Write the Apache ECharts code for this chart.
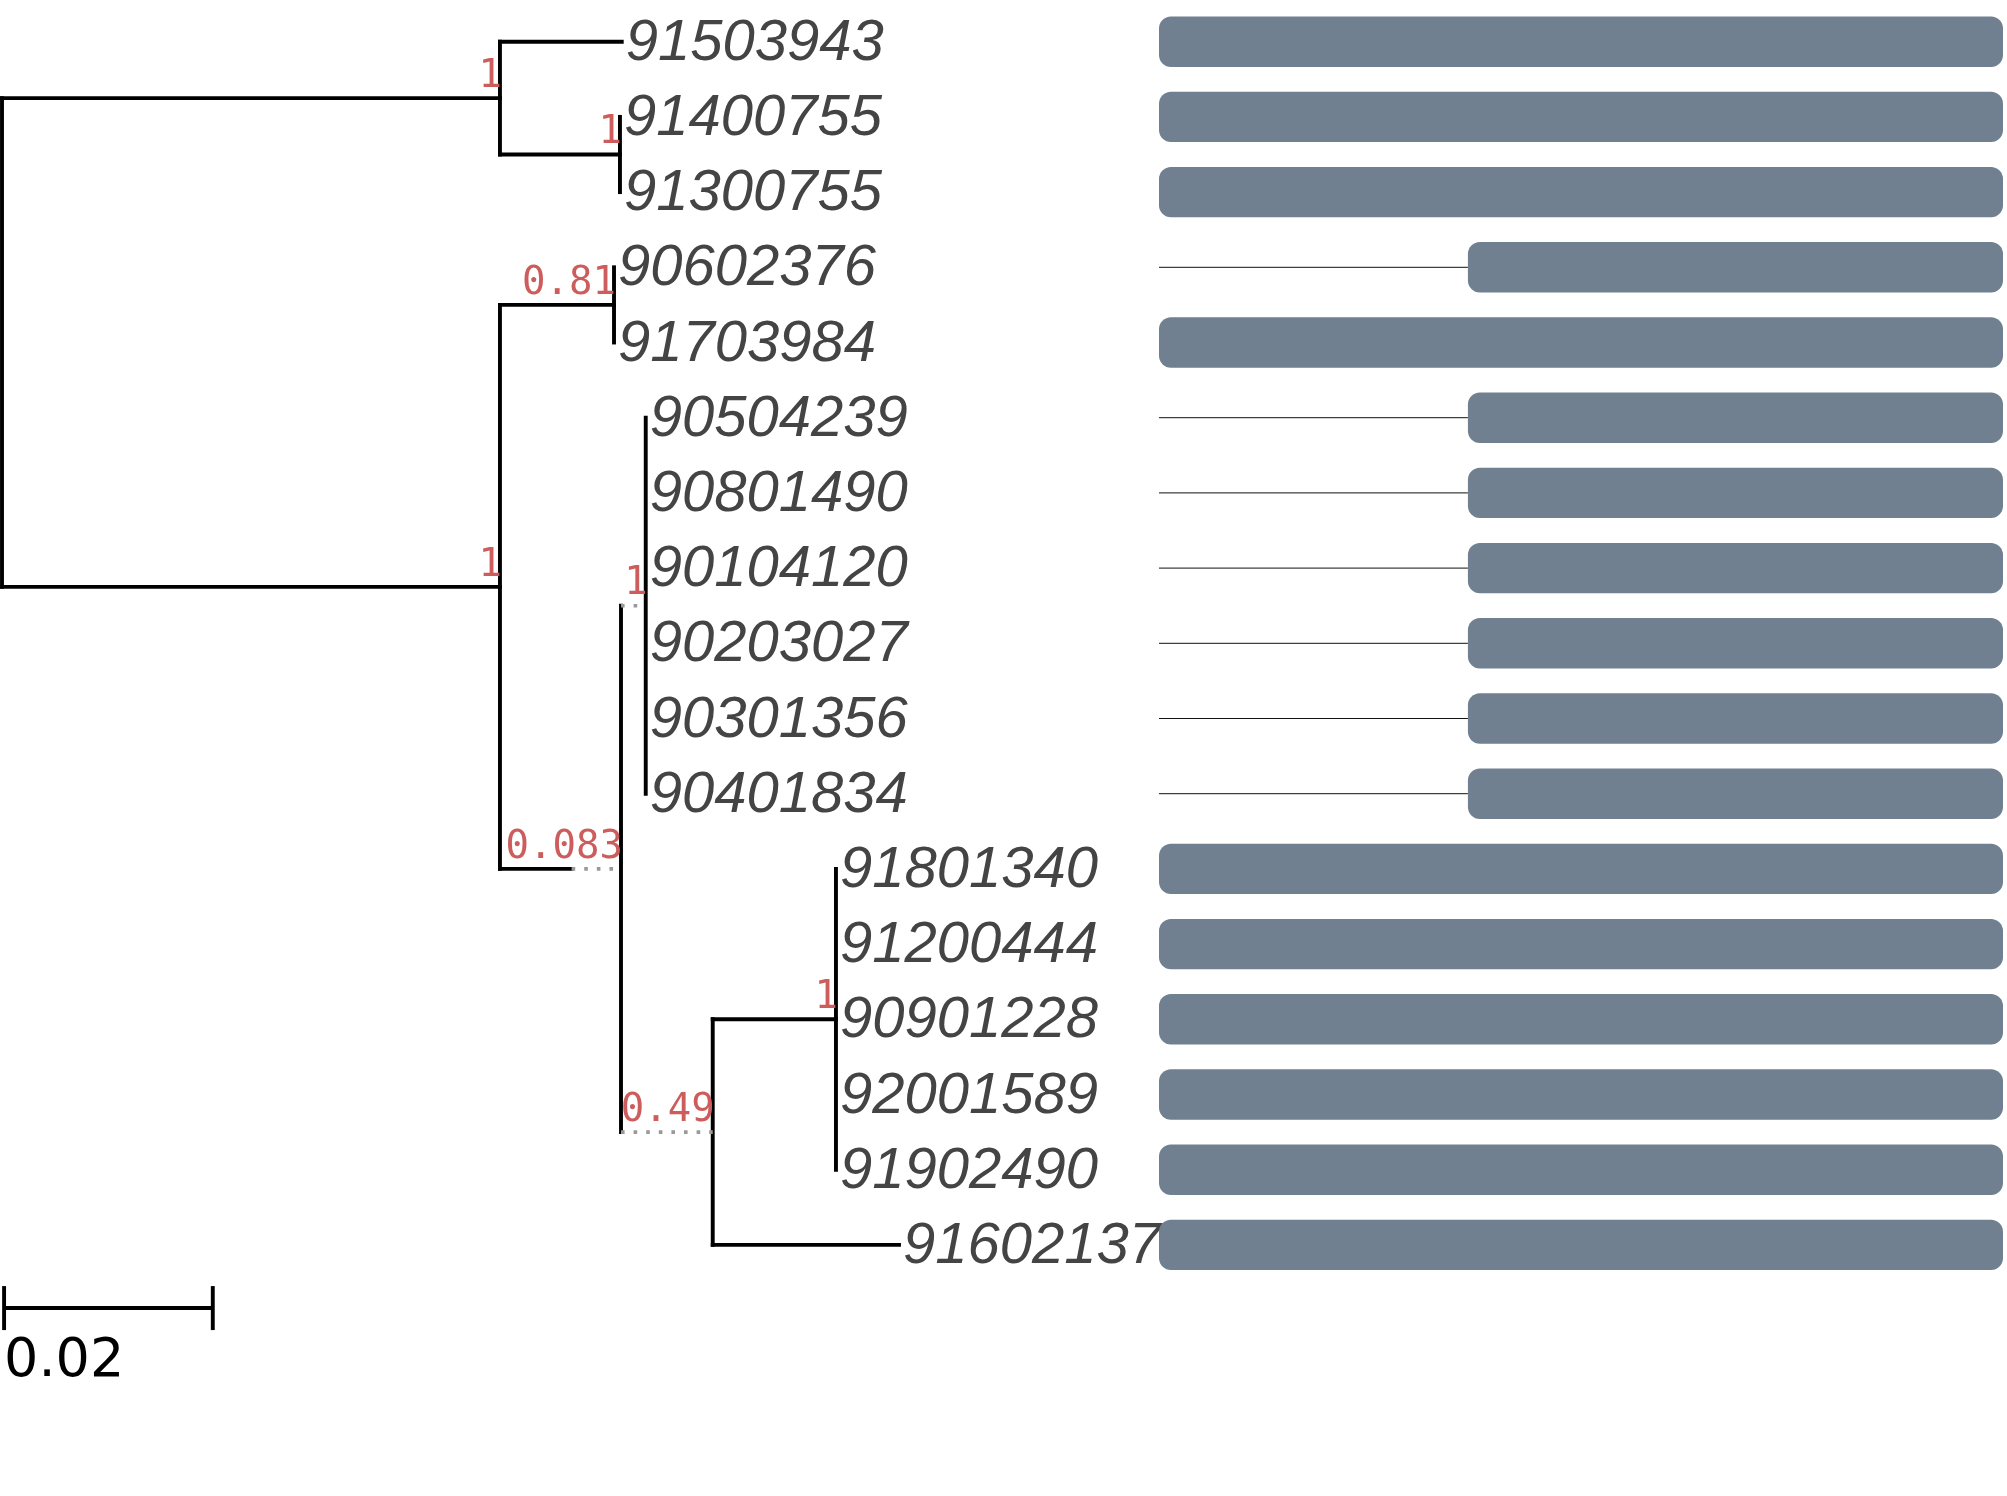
<!DOCTYPE html>
<html>
<head>
<meta charset="utf-8">
<title>tree</title>
<script src="https://cdn.jsdelivr.net/npm/echarts@6/dist/echarts.min.js"></script>
<style>
  html, body { margin: 0; padding: 0; background: #fff; }
  #chart { width: 2007px; height: 1496px; }
</style>
</head>
<body>
<div id="chart"></div>
<script>
// tips, top to bottom
const tipLabels = [
    "91503943", "91400755", "91300755", "90602376", "91703984",
    "90504239", "90801490", "90104120", "90203027", "90301356", "90401834",
    "91801340", "91200444", "90901228", "92001589", "91902490", "91602137"
];
const tipParent = ["A", "B", "B", "D", "D", "F", "F", "F", "F", "F", "F", "H", "H", "H", "H", "H", "G"];
const tipDepth = [
    0.05939, 0.05922, 0.05922, 0.05865, 0.05865,
    0.06169, 0.06169, 0.06169, 0.06169, 0.06169, 0.06169,
    0.07992, 0.07992, 0.07992, 0.07992, 0.07992, 0.08596
];

// internal nodes
const nodeIds = ["root", "A", "B", "C", "D", "E", "F", "G", "H"];
const nodeParent = [null, "root", "A", "root", "C", "C", "E", "E", "G"];
const nodeDepth = [0, 0.04772, 0.05922, 0.04772, 0.05865, 0.05932, 0.06169, 0.06811, 0.07992];
const nodeSupport = ["", "1", "1", "1", "0.81", "0.083", "1", "0.49", "1"];
// branch drawn dotted from this depth on (null = solid)
const dottedFrom = [null, null, null, null, null, 0.05459, 0.05932, 0.05932, null];

// sequence coverage per tip
const seqStart = [0, 0, 0, 366, 0, 366, 366, 366, 366, 366, 366, 0, 0, 0, 0, 0, 0];
const seqEnd = [1000, 1000, 1000, 1000, 1000, 1000, 1000, 1000, 1000, 1000, 1000, 1000, 1000, 1000, 1000, 1000, 1000];

const scaleLength = 0.02;

// #region Layout
const nodeIndex = {};
nodeIds.forEach((id, i) => nodeIndex[id] = i);

const nodeRow = [];
const nodeRange = [];
function rowOf(id) {
    const i = nodeIndex[id];
    if (nodeRow[i] !== undefined) return nodeRow[i];
    let rows = [];
    tipParent.forEach((p, t) => { if (p === id) rows.push(t); });
    nodeParent.forEach((p, n) => { if (p === id) rows.push(rowOf(nodeIds[n])); });
    const lo = Math.min(...rows), hi = Math.max(...rows);
    nodeRange[i] = [lo, hi];
    nodeRow[i] = (lo + hi) / 2;
    return nodeRow[i];
}
nodeIds.forEach(id => rowOf(id));

// segments: [x1, y1, x2, y2, dotted]
const segments = [];
nodeIds.forEach((id, i) => {
    segments.push([nodeDepth[i], nodeRange[i][0], nodeDepth[i], nodeRange[i][1], 0]);
    const p = nodeParent[i];
    if (p === null) return;
    const px = nodeDepth[nodeIndex[p]];
    const d = dottedFrom[i];
    if (d === null) {
        segments.push([px, nodeRow[i], nodeDepth[i], nodeRow[i], 0]);
    } else {
        if (d > px) segments.push([px, nodeRow[i], d, nodeRow[i], 0]);
        segments.push([d, nodeRow[i], nodeDepth[i], nodeRow[i], 1]);
    }
});
tipParent.forEach((p, t) => {
    const px = nodeDepth[nodeIndex[p]];
    if (tipDepth[t] > px) segments.push([px, t, tipDepth[t], t, 0]);
});
// #endregion

const chart = echarts.init(document.getElementById("chart"), null, { renderer: "canvas" });

const yAxisBase = { type: "value", inverse: true, min: -0.5, max: 18.5, show: false };

const option = {
    animation: false,
    backgroundColor: "#fff",
    grid: [
        { left: 2, right: 961.5, top: 4.1, bottom: 63.1 },
        { left: 1159, right: 4, top: 4.1, bottom: 63.1 }
    ],
    xAxis: [
        { type: "value", gridIndex: 0, min: 0, max: 0.1, show: false },
        { type: "value", gridIndex: 1, min: 0, max: 1000, show: false }
    ],
    yAxis: [
        Object.assign({ gridIndex: 0 }, yAxisBase),
        Object.assign({ gridIndex: 1 }, yAxisBase)
    ],
    series: [
        {
            // branches
            type: "custom",
            xAxisIndex: 0, yAxisIndex: 0,
            clip: false,
            data: segments,
            renderItem: (params, api) => {
                const a = api.coord([api.value(0), api.value(1)]);
                const b = api.coord([api.value(2), api.value(3)]);
                const dotted = api.value(4) === 1;
                return {
                    type: "line",
                    shape: { x1: a[0], y1: a[1], x2: b[0], y2: b[1] },
                    style: dotted
                        ? { stroke: "#999", lineWidth: 3.6, lineDash: [3.6, 9], lineCap: "butt" }
                        : { stroke: "#000", lineWidth: 3.9, lineCap: "square" }
                };
            }
        },
        {
            // tip labels
            type: "custom",
            xAxisIndex: 0, yAxisIndex: 0,
            clip: false,
            data: tipLabels.map((n, i) => [tipDepth[i], i]),
            renderItem: (params, api) => {
                const p = api.coord([api.value(0), api.value(1)]);
                return {
                    type: "text",
                    style: {
                        text: tipLabels[params.dataIndex],
                        x: p[0] + 4, y: p[1] + 2,
                        fill: "#444",
                        fontFamily: "Liberation Sans",
                        fontStyle: "italic",
                        fontSize: 58,
                        align: "left", verticalAlign: "middle"
                    }
                };
            }
        },
        {
            // support values
            type: "custom",
            xAxisIndex: 0, yAxisIndex: 0,
            clip: false,
            data: nodeIds.map((id, i) => [nodeDepth[i], nodeRow[i]]),
            renderItem: (params, api) => {
                const p = api.coord([api.value(0), api.value(1)]);
                return {
                    type: "text",
                    style: {
                        text: nodeSupport[params.dataIndex],
                        x: p[0] + 2, y: p[1] - 2,
                        fill: "#CD5C5C",
                        fontFamily: "DejaVu Sans Mono",
                        fontSize: 39,
                        align: "right", verticalAlign: "bottom"
                    }
                };
            }
        },
        {
            // scale bar
            type: "custom",
            xAxisIndex: 0, yAxisIndex: 0,
            clip: false,
            data: [[0.0002, scaleLength]],
            renderItem: (params, api) => {
                const row = 16.84;
                const a = api.coord([api.value(0), row]);
                const b = api.coord([api.value(0) + api.value(1), row]);
                const st = { stroke: "#000", lineWidth: 3.9 };
                return {
                    type: "group",
                    children: [
                        { type: "line", shape: { x1: a[0], y1: a[1], x2: b[0], y2: b[1] }, style: st },
                        { type: "line", shape: { x1: a[0], y1: a[1] - 22, x2: a[0], y2: a[1] + 22 }, style: st },
                        { type: "line", shape: { x1: b[0], y1: b[1] - 22, x2: b[0], y2: b[1] + 22 }, style: st },
                        {
                            type: "text",
                            style: {
                                text: String(api.value(1)),
                                x: a[0], y: a[1] + 27,
                                fill: "#000",
                                fontFamily: "DejaVu Sans",
                                fontSize: 54,
                                align: "left", verticalAlign: "top"
                            }
                        }
                    ]
                };
            }
        },
        {
            // leader lines before partial sequences
            type: "custom",
            xAxisIndex: 1, yAxisIndex: 1,
            data: seqStart.map((s, i) => [0, s, i]).filter(d => d[1] > 0),
            renderItem: (params, api) => {
                const a = api.coord([api.value(0), api.value(2)]);
                const b = api.coord([api.value(1), api.value(2)]);
                return {
                    type: "line",
                    shape: { x1: a[0], y1: a[1], x2: b[0], y2: b[1] },
                    style: { stroke: "#111", lineWidth: 1 }
                };
            }
        },
        {
            // sequence bars
            type: "custom",
            xAxisIndex: 1, yAxisIndex: 1,
            data: seqStart.map((s, i) => [s, seqEnd[i], i]),
            renderItem: (params, api) => {
                const a = api.coord([api.value(0), api.value(2)]);
                const b = api.coord([api.value(1), api.value(2)]);
                const h = api.size([0, 1])[1] * 0.67;
                return {
                    type: "rect",
                    shape: { x: a[0], y: a[1] - h / 2, width: b[0] - a[0], height: h, r: 12 },
                    style: { fill: "#708090" }
                };
            }
        }
    ]
};

chart.setOption(option);
</script>
</body>
</html>
